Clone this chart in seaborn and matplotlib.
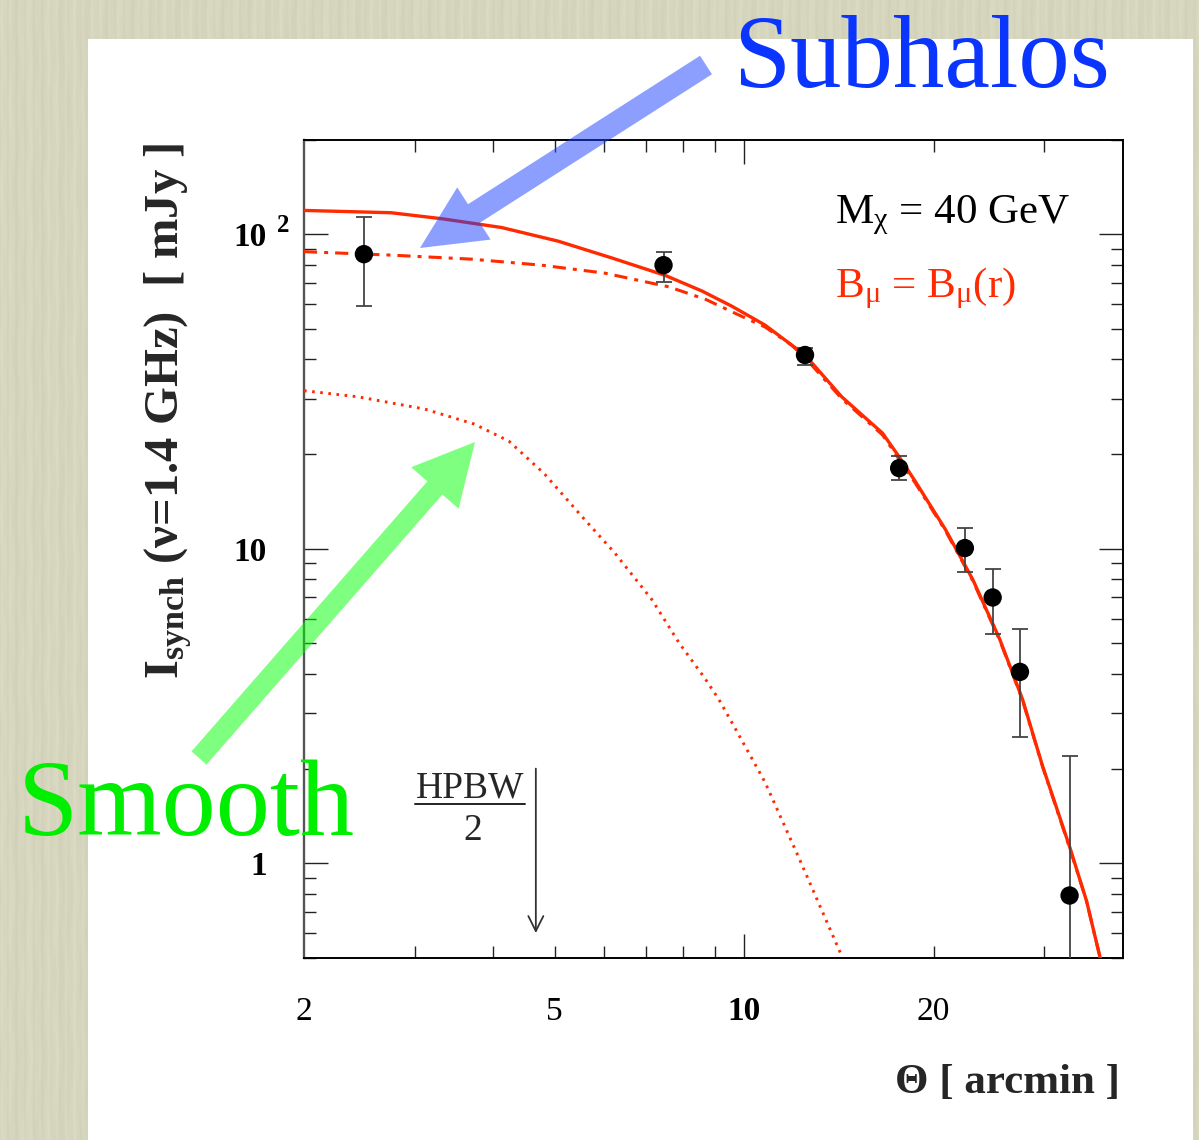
import numpy as np
import pandas as pd
import matplotlib
matplotlib.use("Agg")
import matplotlib.pyplot as plt
import matplotlib.transforms as mtransforms
from matplotlib.patches import Rectangle, FancyArrow
from matplotlib.lines import Line2D
from matplotlib.ticker import FixedLocator, NullFormatter
import seaborn as sns

# ---------------- data ----------------
# observed synchrotron intensity profile (arcmin, mJy)
theta_obs = [2.49, 7.45, 12.5, 17.64, 22.43, 24.83, 27.44, 32.9]
flux_obs = [86.4, 79.7, 41.3, 18.04, 10.05, 7.00, 4.06, 0.79]
flux_hi = [113.5, 87.9, 43.5, 19.7, 11.63, 8.64, 5.56, 2.19]
flux_lo = [59.1, 70.5, 38.4, 16.56, 8.43, 5.36, 2.53, 0.30]

# model: total (smooth + subhalos)
theta_total = [2.0, 2.75, 3.31, 4.12, 5.07, 6.17, 7.49, 8.57, 9.57, 10.8, 12.5,
               14.3, 16.6, 17.7, 18.7, 20.9, 23.1, 25.5, 27.7, 29.8, 32.9, 35.0, 36.8]
flux_total = [119, 117, 112, 105, 95, 84, 74, 66, 59, 51.4, 41.3,
              30.4, 23.3, 19.4, 16.4, 11.5, 7.97, 5.14, 3.32, 2.04, 1.13, 0.76, 0.50]

# model: subhalo contribution
theta_sub = [2.0, 2.75, 3.69, 4.77, 6.01, 7.60, 8.7, 9.82, 10.8, 11.9, 12.5, 14.3,
             16.6, 18.7, 20.9, 23.1, 25.5, 27.7, 29.8, 32.9, 35.0, 36.8]
flux_sub = [88, 85.8, 83.3, 79.7, 75.2, 68.0, 62.0, 55.3, 50.7, 44.4, 40.5, 30.0,
            23.0, 16.2, 11.4, 7.9, 5.1, 3.3, 2.03, 1.12, 0.76, 0.50]

# model: smooth halo only
theta_smooth = [2.0, 2.44, 3.11, 3.73, 4.23, 4.82, 5.52, 6.23, 7.14, 7.88,
                8.67, 9.12, 9.57, 10.8, 12.2, 14.3]
flux_smooth = [31.8, 30.4, 27.8, 24.9, 22.0, 17.3, 12.7, 9.71, 6.89, 5.03,
               3.87, 3.32, 2.80, 1.81, 1.05, 0.507]

hpbw_half = 4.67          # arcmin
hpbw_arrow_y = [2.0, 0.6]

x_tick_values = [2, 5, 10, 20]
x_tick_labels = ["2", "5", "10", "20"]
y_tick_values = [1, 10, 100]
y_tick_labels = ["1", "10", "10"]

# ---------------- style ----------------
W, H = 1199, 1140
sns.set_theme(style="ticks")
plt.rcParams["font.family"] = ["Liberation Serif", "DejaVu Serif"]
plt.rcParams["mathtext.fontset"] = "custom"
plt.rcParams["mathtext.rm"] = "Liberation Serif"
plt.rcParams["mathtext.it"] = "Liberation Serif:italic"
plt.rcParams["mathtext.bf"] = "Liberation Serif:bold"

RED = "#ff2a00"

fig = plt.figure(figsize=(W / 100, H / 100), dpi=100)
fig.patch.set_facecolor("#d6d6bd")

# woven-paper backdrop: fine vertical streaks
yy, xx = np.mgrid[0:H, 0:W].astype(float)
streak = (np.sin(2 * np.pi * xx / 9.0 + 0.6 * np.sin(2 * np.pi * yy / 83.0)) * 0.5
          + np.sin(2 * np.pi * xx / 23.0 + 0.8 * np.sin(2 * np.pi * yy / 157.0)) * 0.35
          + np.sin(2 * np.pi * xx / 4.3 + 0.4 * np.sin(2 * np.pi * yy / 41.0)) * 0.25)
base = np.array([214, 214, 190], dtype=float)
tex = base[None, None, :] + 5.0 * streak[:, :, None]
tex = np.clip(tex, 0, 255).astype(np.uint8)
fig.figimage(tex, xo=0, yo=0, origin="upper", zorder=-10)


def fx(px):
    return px / W


def fy(py):
    return 1 - py / H


# white sheet behind the plot
fig.add_artist(Rectangle((fx(88), 0), fx(1193) - fx(88), fy(39), transform=fig.transFigure,
                         facecolor="white", edgecolor="none", zorder=-5))

ax = fig.add_axes([fx(304), fy(958), fx(1123) - fx(304), fy(139.5) - fy(958)])
ax.set_facecolor("white")
ax.set_xscale("log")
ax.set_yscale("log")

df_total = pd.DataFrame({"theta": theta_total, "flux": flux_total})
df_sub = pd.DataFrame({"theta": theta_sub, "flux": flux_sub})
df_smooth = pd.DataFrame({"theta": theta_smooth, "flux": flux_smooth})

sns.lineplot(data=df_total, x="theta", y="flux", ax=ax, color=RED, lw=2.4,
             errorbar=None, zorder=3)
sns.lineplot(data=df_sub, x="theta", y="flux", ax=ax, color=RED, lw=2.2,
             errorbar=None, zorder=3)
ax.lines[-1].set_linestyle((0, (4.3, 2.3, 1.3, 2.3)))
sns.lineplot(data=df_smooth, x="theta", y="flux", ax=ax, color=RED, lw=2.1,
             errorbar=None, zorder=3)
ax.lines[-1].set_linestyle((0, (0.9, 1.9)))

yerr = [np.array(flux_obs) - np.array(flux_lo), np.array(flux_hi) - np.array(flux_obs)]
ax.errorbar(theta_obs, flux_obs, yerr=yerr, fmt="none", ecolor="#444444",
            elinewidth=1.3, capsize=6, capthick=1.3, zorder=4)
sns.scatterplot(x=theta_obs, y=flux_obs, ax=ax, color="black", s=175,
                edgecolor="none", zorder=5)

ax.set_xlim(2, 40)
ax.set_ylim(0.5, 200)
ax.set_xlabel("")
ax.set_ylabel("")

# ticks (inward, on all sides)
ax.xaxis.set_major_locator(FixedLocator([10]))
ax.xaxis.set_minor_locator(FixedLocator([3, 4, 5, 6, 7, 8, 9, 20, 30]))
minor_y = [v * d for d in (0.1, 1, 10, 100) for v in range(2, 10)]
ax.yaxis.set_major_locator(FixedLocator([1, 10, 100]))
ax.yaxis.set_minor_locator(FixedLocator(minor_y))
ax.xaxis.set_major_formatter(NullFormatter())
ax.xaxis.set_minor_formatter(NullFormatter())
ax.yaxis.set_major_formatter(NullFormatter())
ax.yaxis.set_minor_formatter(NullFormatter())
ax.tick_params(which="both", direction="in", top=True, right=True,
               bottom=True, left=True, colors="#222222", width=1.0)
ax.tick_params(which="major", length=17.5)
ax.tick_params(which="minor", length=8.7)
for side, sp in ax.spines.items():
    sp.set_visible(True)
    sp.set_color("black")
    sp.set_linewidth(1.4)
ax.spines["left"].set_color("#555555")
ax.spines["left"].set_linewidth(1.7)
ax.grid(False)

# tick labels
xlab_tr = mtransforms.blended_transform_factory(ax.transData, fig.transFigure)
for v, lab in zip(x_tick_values, x_tick_labels):
    ax.text(v, fy(1012), lab, transform=xlab_tr, ha="center", va="center",
            fontsize=24, fontweight="bold" if v == 10 else "normal", color="black")

ylab_tr = mtransforms.blended_transform_factory(fig.transFigure, ax.transData)
for v, lab in zip(y_tick_values, y_tick_labels):
    ax.text(fx(267), v, lab, transform=ylab_tr, ha="right", va="center_baseline",
            fontsize=24, fontweight="bold", color="black", clip_on=False)
exp_tr = mtransforms.offset_copy(ylab_tr, fig=fig, x=0, y=11, units="dots")
ax.text(fx(277), 100, "2", transform=exp_tr, ha="left", va="center_baseline",
        fontsize=18, fontweight="bold", color="black", clip_on=False)

# axis titles
fig.text(fx(1120), fy(1083), "Θ [ arcmin ]", ha="right", va="center",
         fontsize=31, fontweight="bold")
fig.text(fx(168), fy(411), r"I$_{\mathbf{synch}}$ (ν=1.4 GHz)  [ mJy ]",
         rotation=90, ha="center", va="center", fontsize=35, fontweight="bold")

# parameter labels
fig.text(fx(835), fy(223), r"M$_{\mathrm{\chi}}$ = 40 GeV", ha="left",
         va="baseline", fontsize=31, color="black")
fig.text(fx(835), fy(297), r"B$_{\mathrm{\mu}}$ = B$_{\mathrm{\mu}}$(r)", ha="left",
         va="baseline", fontsize=31, color=RED)

# beam size marker
ax.annotate("", xy=(hpbw_half, hpbw_arrow_y[1]), xytext=(hpbw_half, hpbw_arrow_y[0]),
            arrowprops=dict(arrowstyle="->,head_length=0.9,head_width=0.45",
                            color="#333333", lw=1.3, shrinkA=0, shrinkB=0))
fig.text(fx(470), fy(797), "HPBW", ha="center", va="baseline", fontsize=27)
fig.add_artist(Line2D([fx(415), fx(525)], [fy(803.5), fy(803.5)],
                      transform=fig.transFigure, color="#222222", lw=1.4))
fig.text(fx(473), fy(840), "2", ha="center", va="baseline", fontsize=27)

# callouts
inch = fig.dpi_scale_trans
fig.add_artist(FancyArrow(7.06, (H - 65) / 100, (420 - 706) / 100, (65 - 248) / 100,
                          width=0.22, head_width=0.62, head_length=0.64,
                          length_includes_head=True, transform=inch,
                          facecolor=(0.1, 0.25, 1.0), alpha=0.5, edgecolor="none",
                          zorder=10))
fig.add_artist(FancyArrow(1.99, (H - 758) / 100, (475 - 199) / 100, (758 - 442) / 100,
                          width=0.20, head_width=0.63, head_length=0.61,
                          length_includes_head=True, transform=inch,
                          facecolor=(0.0, 1.0, 0.0), alpha=0.5, edgecolor="none",
                          zorder=10))
fig.text(fx(733), fy(87), "Subhalos", ha="left", va="baseline", fontsize=74,
         color="#0a35ff", zorder=11)
fig.text(fx(18), fy(835), "Smooth", ha="left", va="baseline", fontsize=78,
         color="#00ee00", zorder=11)

fig.savefig("out.png", dpi=100, facecolor=fig.get_facecolor())
